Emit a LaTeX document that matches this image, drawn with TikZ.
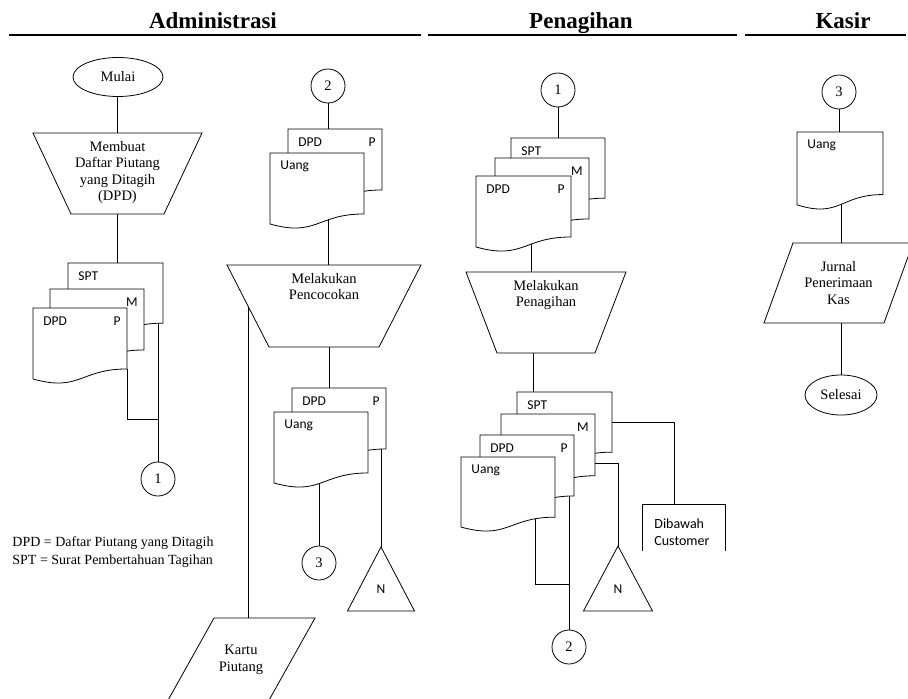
\documentclass[tikz,border=0pt]{standalone}
\usepackage{fontspec}
\setmainfont{Liberation Serif}
\newfontfamily\calfont{Carlito}
\usetikzlibrary{shapes.geometric,calc}
\pgfdeclarelayer{background}
\pgfsetlayers{background,main}
\tikzset{
  txt/.style={font=\fontsize{14.5}{16.5}\selectfont, align=center, inner sep=0pt},
  lbl/.style={font=\calfont\fontsize{13.5}{15}\selectfont, inner sep=0pt},
  hdr/.style={font=\bfseries\fontsize{23}{26}\selectfont, inner sep=0pt, anchor=base},
  circ/.style={draw, circle, fill=white, minimum size=34pt, inner sep=0pt, font=\fontsize{14.5}{16}\selectfont},
  term/.style={draw, ellipse, fill=white, inner sep=0pt, font=\fontsize{14.5}{16}\selectfont},
  legend/.style={font=\fontsize{14}{16}\selectfont, anchor=west, inner sep=0pt},
  pics/doc/.style n args={4}{code={
    \draw[fill=white] (0,0) -- (#1,0) -- (#1,0.802*#2)
      .. controls (0.5*#1,0.802*#2) and (0.5*#1,1.1075*#2) .. (0,0.934*#2) -- cycle;
    \coordinate (-c) at (0.5*#1,0.5*#2);
    \coordinate (-br) at (#1,0.802*#2);
    \node[lbl,anchor=west] (-l) at (10,13) {#3};
    \node[lbl,anchor=east] (-r) at (#1-6,13) {#4};
  }},
  pics/trap/.style n args={6}{code={
    \draw[fill=white] (-#1/2,0) -- (#1/2,0) -- (#2/2,#3) -- (-#2/2,#3) -- cycle;
    \node[txt,anchor=north] (-t) at (0,8) {#4};
    \coordinate (-c) at (0,#3/2);
    \coordinate (-in) at (#5,0);
    \coordinate (-out) at (#6,#3);
  }},
  pics/para/.style n args={6}{code={
    \draw[fill=white] (0,0) -- (#1,0) -- (#1-#3,#2) -- (-#3,#2) -- cycle;
    \node[txt] (-t) at (#1/2-#3/2,#2/2) {#4};
    \coordinate (-c) at (#1/2-#3/2,#2/2);
    \coordinate (-in) at (#5,0);
    \coordinate (-out) at (#6,#2);
  }},
  pics/tri/.style n args={2}{code={
    \draw[fill=white] (0,0) -- (#1,#2) -- (-#1,#2) -- cycle;
    \node[lbl] (-n) at (0,0.66*#2) {N};
    \coordinate (-top) at (0,0);
  }},
}
\begin{document}
\begin{tikzpicture}[x=1pt,y=-1pt,line width=0.8pt]
\useasboundingbox (0,0) rectangle (908,699);

% headers
\node[hdr] (h1) at (213,28) {Administrasi};
\node[hdr] (h2) at (581,28) {Penagihan};
\node[hdr] (h3) at (843,28) {Kasir};
\draw[line width=1.6pt] (9,35) -- (421,35);
\draw[line width=1.6pt] (428,35) -- (737,35);
\draw[line width=1.6pt] (745,35) -- (906,35);

% ---------- Administrasi, left
\node[term, minimum width=90pt, minimum height=39pt] (mulai) at (118,77) {Mulai};
\pic (mb) at (117.5,133) {trap={169}{93}{81}{Membuat\\Daftar Piutang\\yang Ditagih\\(DPD)}{0}{0}};
\pic (lspt) at (68,263) {doc={95}{75}{SPT}{}};
\pic (lm) at (50,289) {doc={94}{76}{}{M}};
\pic (ldpd) at (33,308) {doc={94}{76}{DPD}{P}};
\node[circ] (c1) at (158,479) {1};
\coordinate (lj) at (c1.north |- 0,419);

\node[legend] (lg1) at (12,543) {DPD = Daftar Piutang yang Ditagih};
\node[legend] (lg2) at (12,561) {SPT = Surat Pembertahuan Tagihan};

% ---------- Administrasi, middle
\node[circ] (c2) at (328,86) {2};
\pic (m2b) at (288,129) {doc={94}{76}{DPD}{P}};
\pic (m2u) at (270,153) {doc={94}{76}{Uang}{}};
\pic (mp) at (324,265) {trap={194}{110}{82}{Melakukan\\Pencocokan}{4}{5}};
\pic (m3b) at (292,388) {doc={94}{76}{DPD}{P}};
\pic (m3u) at (274,412) {doc={94}{76}{Uang}{}};
\node[circ] (c3m) at (319,563) {3};
\pic (tri1) at (381,547) {tri={33.5}{64}};
\begin{scope}
  \clip (0,0) rectangle (908,699);
  \pic (kartu) at (214,618) {para={101}{84}{47}{Kartu\\Piutang}{34}{0}};
\end{scope}

% ---------- Penagihan
\node[circ] (pc1) at (558,90) {1};
\pic (pspt) at (511,138) {doc={94}{75}{SPT}{}};
\pic (pm) at (495,158) {doc={94}{76}{}{M}};
\pic (pdpd) at (476,176) {doc={95}{76}{DPD}{P}};
\pic (pt) at (546,272) {trap={160}{98}{81}{Melakukan\\Penagihan}{-15}{-13}};
\pic (pspt2) at (517,392) {doc={95}{75}{SPT}{}};
\pic (pm2) at (501,414) {doc={94}{77}{}{M}};
\pic (pdpd2) at (480,435) {doc={94}{76}{DPD}{P}};
\pic (puang) at (461,457) {doc={94}{75}{Uang}{}};
\pic (tri2) at (618,546) {tri={34.5}{65}};
\node[circ] (pc2) at (569,647) {2};
\coordinate (pj) at (pc2.north |- 0,584);
% Dibawah Customer
\draw (642,551) -- (642,504) -- (725,504) -- (725,551);
\coordinate (dib) at (674,504);
\node[font=\calfont\fontsize{14}{17}\selectfont, align=left, anchor=west, inner sep=0pt] (dibt) at (654,532) {Dibawah\\Customer};

% ---------- Kasir
\node[circ] (c3) at (839,92) {3};
\pic (kuang) at (797,132) {doc={86}{78}{Uang}{}};
\pic (jk) at (793,243) {para={120}{80}{29}{Jurnal\\Penerimaan\\Kas}{48}{48}};
\node[term, minimum width=72pt, minimum height=40pt] (sel) at (841,395) {Selesai};

% ---------- connectors
\begin{pgfonlayer}{background}
  \draw (mb-in) -- (mb-in |- mulai.center);
  \draw (mb-out) -- (mb-out |- lspt-c);
  \draw (c1.north) -- (c1.north |- lspt-c);
  \draw (ldpd-br) |- (lj);

  \draw (c2.center) -- (c2.center |- m2b-c);
  \draw (mp-in) -- (mp-in |- m2u-c);
  \draw (mp-out) -- (mp-out |- m3b-c);
  \draw (c3m.north) -- (c3m.north |- m3u-c);
  \draw (tri1-top) -- (tri1-top |- m3b-c);
  \draw (kartu-in) -- (kartu-in |- mp-c);

  \draw (pc1.center) -- (pc1.center |- pspt-c);
  \draw (pt-in) -- (pt-in |- pdpd-c);
  \draw (pt-out) -- (pt-out |- pspt2-c);
  \draw (dib) |- (pspt2-c |- 0,422);
  \draw (tri2-top) |- (pm2-c |- 0,463);
  \draw (pc2.north) -- (pc2.north |- pdpd2-c);
  \draw (pj) -| ($(puang-c)+(27,0)$);

  \draw (c3.center) -- (c3.center |- kuang-c);
  \draw (jk-in) -- (jk-in |- kuang-c);
  \draw (sel.north) -- (jk-out);
\end{pgfonlayer}
\end{tikzpicture}
\end{document}
